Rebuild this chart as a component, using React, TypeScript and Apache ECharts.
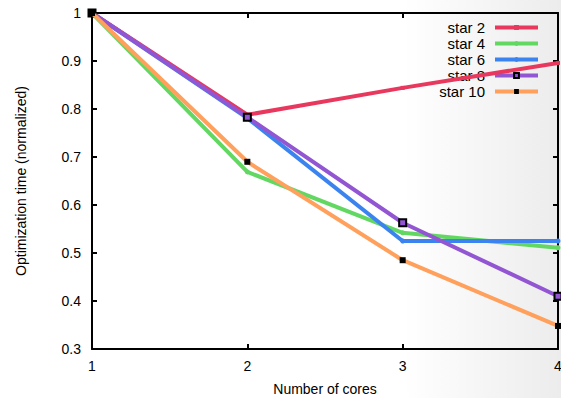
import React, { useEffect, useRef } from "react";
import * as echarts from "echarts";

const categories = [1, 2, 3, 4];
const yTicks = [0.3, 0.4, 0.5, 0.6, 0.7, 0.8, 0.9, 1];
const star2 = [1, 0.788, 0.844, 0.896];
const star4 = [1, 0.669, 0.542, 0.511];
const star6 = [1, 0.781, 0.525, 0.525];
const star8 = [1, 0.783, 0.563, 0.41];
const star10 = [1, 0.69, 0.485, 0.348];

const seriesDefs = [
  { name: "star 2", data: star2, color: "#e8385e", symbol: "rect", size: 4, border: "#e8385e", fill: "#e8385e" },
  { name: "star 4", data: star4, color: "#62d862", symbol: "circle", size: 5, border: "#62d862", fill: "#62d862" },
  { name: "star 6", data: star6, color: "#3b84f0", symbol: "circle", size: 5, border: "#3b84f0", fill: "#3b84f0" },
  { name: "star 8", data: star8, color: "#9256d3", symbol: "rect", size: 7, border: "#000000", fill: "#9256d3" },
  { name: "star 10", data: star10, color: "#ffa05c", symbol: "rect", size: 6, border: "#000000", fill: "#000000" },
];

const FONT = "Liberation Sans, Arial, Helvetica, sans-serif";

export default function App() {
  const ref = useRef<HTMLDivElement>(null);
  useEffect(() => {
    if (!ref.current) return;
    const chart = echarts.init(ref.current, undefined, { renderer: "svg" });
    const axisLine = { show: true, lineStyle: { color: "#000", width: 2 } };
    const tick = { show: true, inside: true, length: 5, lineStyle: { color: "#000", width: 2 } };
    chart.setOption({
      animation: false,
      backgroundColor: "transparent",
      textStyle: { fontFamily: FONT },
      grid: { left: 92, right: 3, top: 13, bottom: 49, outerBoundsMode: "none", containLabel: false },
      legend: {
        orient: "vertical",
        right: 21,
        top: 20,
        padding: 0,
        align: "right",
        itemWidth: 43,
        itemHeight: 6,
        itemGap: 1,
        z: 1,
        lineStyle: { width: 4 },
        textStyle: { fontSize: 15, lineHeight: 14, color: "#000", fontFamily: FONT, padding: [0, 5, 0, 0] },
        data: seriesDefs.map((s) => s.name),
      },
      xAxis: [
        {
          type: "value",
          min: 1,
          max: 4,
          interval: 1,
          name: "Number of cores",
          nameLocation: "middle",
          nameGap: 33,
          nameTextStyle: { fontSize: 14, color: "#000", fontFamily: FONT },
          axisLine,
          axisTick: tick,
          splitLine: { show: false },
          axisLabel: { fontSize: 14, color: "#000", margin: 10, fontFamily: FONT, formatter: (v: number) => (categories.includes(v) ? String(v) : "") },
        },
        {
          type: "value",
          position: "top",
          min: 1,
          max: 4,
          interval: 1,
          axisLine,
          axisTick: tick,
          axisLabel: { show: false },
          splitLine: { show: false },
        },
      ],
      yAxis: [
        {
          type: "value",
          min: 0.3,
          max: 1,
          interval: 0.1,
          name: "Optimization time (normalized)",
          nameLocation: "middle",
          nameGap: 64,
          nameTextStyle: { fontSize: 14, color: "#000", fontFamily: FONT },
          axisLine,
          axisTick: tick,
          splitLine: { show: false },
          axisLabel: {
            fontSize: 14,
            color: "#000",
            margin: 11,
            fontFamily: FONT,
            formatter: (v: number) => {
              const t = yTicks.find((y) => Math.abs(y - v) < 1e-6);
              return t === undefined ? "" : String(t);
            },
          },
        },
        {
          type: "value",
          position: "right",
          min: 0.3,
          max: 1,
          interval: 0.1,
          axisLine,
          axisTick: tick,
          axisLabel: { show: false },
          splitLine: { show: false },
        },
      ],
      series: seriesDefs.map((s, i) => ({
        name: s.name,
        type: "line",
        data: s.data.map((v, j) => [categories[j], v]),
        symbol: s.symbol,
        symbolSize: s.size,
        showSymbol: true,
        z: 3 + i,
        clip: false,
        lineStyle: { color: s.color, width: 4 },
        itemStyle: { color: s.fill, borderColor: s.border, borderWidth: s.border === "#000000" && s.fill !== "#000000" ? 2 : 0 },
      })),
    });
    return () => chart.dispose();
  }, []);
  return (
    <div
      style={{
        position: "absolute",
        left: 0,
        top: 0,
        width: 561,
        height: 398,
        background: "linear-gradient(to right, #ffffff 0%, #ffffff 72%, #ececec 100%)",
      }}
    >
      <div ref={ref} style={{ width: 561, height: 398 }} />
    </div>
  );
}
